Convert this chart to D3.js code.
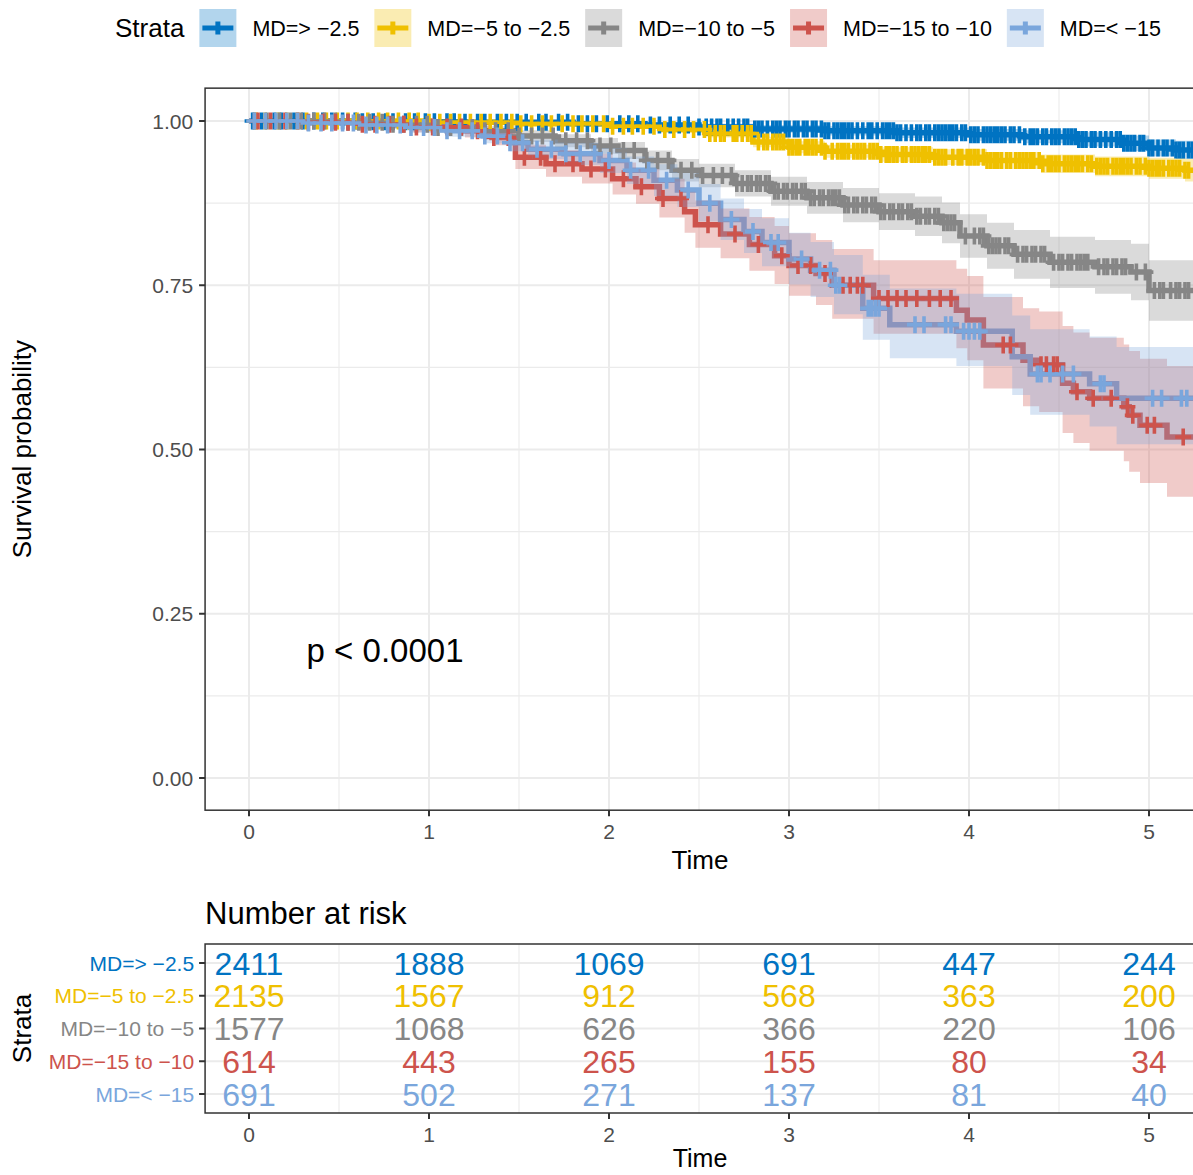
<!DOCTYPE html>
<html>
<head>
<meta charset="utf-8">
<script src="https://cdn.jsdelivr.net/npm/d3@7"></script>
<style>
  body { margin: 0; background: #fff; }
  text { font-family: "Liberation Sans", Arial, sans-serif; }
</style>
</head>
<body>
<script>
// strata + colours (jco palette)
var strata = ["MD=> \u22122.5", "MD=\u22125 to \u22122.5", "MD=\u221210 to \u22125", "MD=\u221215 to \u221210", "MD=< \u221215"];
var colors = ["#0073C2", "#EFC000", "#868686", "#CD534C", "#7AA6DC"];

var xTicks = [0, 1, 2, 3, 4, 5];
var yTicks = [0, 0.25, 0.5, 0.75, 1];
var maxTime = 5.3;

// MD=> -2.5
var time1  = [0, 0.6, 1.2, 1.8, 2.2, 2.5, 2.8, 3.2, 3.6, 4.0, 4.3, 4.6, 4.85, 5.0, 5.15];
var surv1  = [1, 0.999, 0.998, 0.996, 0.994, 0.991, 0.988, 0.985, 0.982, 0.979, 0.976, 0.972, 0.966, 0.959, 0.956];
var lower1 = [1, 0.998, 0.996, 0.993, 0.990, 0.986, 0.982, 0.978, 0.974, 0.970, 0.966, 0.961, 0.954, 0.946, 0.942];
var upper1 = [1, 1, 1, 0.999, 0.998, 0.996, 0.994, 0.992, 0.990, 0.988, 0.986, 0.983, 0.978, 0.972, 0.970];
var cens1  = [0.02,0.07,0.14,0.18,0.25,0.3,0.36,0.41,0.46,0.52,0.59,0.63,0.69,0.76,0.8,0.87,0.92,0.98,1.03,1.1,1.14,1.2,1.27,1.31,1.38,1.43,1.49,1.54,1.61,1.65,1.72,1.77,1.83,1.88,1.93,1.99,2.06,2.11,2.16,2.23,2.28,2.34,2.39,2.44,2.5,2.57,2.62,2.66,2.72,2.77,2.81,2.85,2.91,2.95,3.0,3.05,3.08,3.13,3.18,3.22,3.27,3.31,3.35,3.41,3.44,3.49,3.54,3.58,3.62,3.68,3.71,3.76,3.81,3.85,3.89,3.93,3.98,4.03,4.08,4.12,4.16,4.2,4.25,4.31,4.34,4.38,4.43,4.48,4.53,4.57,4.61,4.65,4.7,4.76,4.79,4.84,4.88,4.92,4.97,5.02,5.05,5.1,5.15,5.19,5.24,
              2.54,2.6,2.69,2.75,2.83,2.88,2.93,2.98,3.03,3.1,3.15,3.2,3.25,3.29,3.33,3.38,3.46,3.52,3.56,3.6,3.65,3.73,3.78,3.83,3.87,3.91,3.96,4.01,4.05,4.1,4.14,4.18,4.23,4.28,4.36,4.41,4.46,4.5,4.55,4.59,4.63,4.68,4.73,4.82,4.86,4.9,4.95,5.0,5.08,5.13,5.17,5.22];

// MD=-5 to -2.5
var time2  = [0, 1.0, 1.5, 2.0, 2.3, 2.55, 2.8, 3.0, 3.2, 3.5, 3.8, 4.1, 4.4, 4.7, 5.0, 5.2];
var surv2  = [1, 0.998, 0.996, 0.992, 0.987, 0.981, 0.968, 0.960, 0.954, 0.949, 0.945, 0.940, 0.935, 0.931, 0.928, 0.925];
var lower2 = [1, 0.996, 0.993, 0.988, 0.982, 0.975, 0.960, 0.951, 0.944, 0.938, 0.933, 0.927, 0.921, 0.916, 0.912, 0.908];
var upper2 = [1, 1, 0.999, 0.996, 0.992, 0.987, 0.976, 0.969, 0.964, 0.960, 0.957, 0.953, 0.949, 0.946, 0.944, 0.942];
var cens2  = [0.04,0.09,0.16,0.21,0.27,0.32,0.38,0.43,0.49,0.55,0.6,0.66,0.72,0.77,0.83,0.89,0.94,1.0,1.06,1.12,1.17,1.23,1.29,1.34,1.4,1.46,1.51,1.57,1.63,1.68,1.74,1.8,1.85,1.91,1.97,2.02,2.08,2.13,2.19,2.25,2.31,2.36,2.42,2.47,2.53,2.59,2.64,2.69,2.74,2.79,2.83,2.88,2.93,2.97,3.02,3.06,3.11,3.15,3.2,3.24,3.29,3.33,3.38,3.42,3.47,3.51,3.56,3.6,3.65,3.7,3.74,3.78,3.83,3.87,3.91,3.96,4.01,4.05,4.1,4.14,4.18,4.23,4.28,4.32,4.36,4.41,4.46,4.5,4.55,4.59,4.63,4.68,4.73,4.77,4.82,4.86,4.9,4.95,5.0,5.04,5.08,5.13,5.17,5.22,
              2.56,2.62,2.71,2.77,2.86,2.91,2.95,3.0,3.04,3.09,3.13,3.18,3.27,3.31,3.36,3.4,3.45,3.49,3.54,3.58,3.63,3.68,3.72,3.76,3.81,3.85,3.94,3.99,4.03,4.08,4.12,4.16,4.21,4.26,4.3,4.34,4.39,4.44,4.48,4.53,4.57,4.61,4.66,4.71,4.75,4.8,4.84,4.88,4.93,4.98,5.02,5.06,5.11,5.15,5.2];

// MD=-10 to -5
var time3  = [0, 0.5, 0.8, 1.0, 1.3, 1.5, 1.7, 1.9, 2.05, 2.2, 2.35, 2.5, 2.7, 2.9, 3.1, 3.3, 3.5, 3.7, 3.85, 3.95, 4.1, 4.25, 4.45, 4.7, 4.9, 5.0];
var surv3  = [1, 0.998, 0.995, 0.99, 0.985, 0.977, 0.97, 0.962, 0.955, 0.94, 0.925, 0.917, 0.905, 0.893, 0.883, 0.872, 0.862, 0.855, 0.845, 0.825, 0.81, 0.797, 0.785, 0.778, 0.77, 0.742];
var lower3 = [1, 0.996, 0.991, 0.985, 0.978, 0.968, 0.96, 0.95, 0.942, 0.925, 0.908, 0.899, 0.885, 0.871, 0.859, 0.846, 0.834, 0.825, 0.814, 0.792, 0.775, 0.76, 0.746, 0.737, 0.727, 0.696];
var upper3 = [1, 1, 0.999, 0.995, 0.992, 0.986, 0.98, 0.974, 0.968, 0.955, 0.942, 0.935, 0.925, 0.915, 0.907, 0.898, 0.89, 0.885, 0.876, 0.858, 0.845, 0.834, 0.824, 0.819, 0.813, 0.788];
var cens3  = [0.03,0.1,0.17,0.23,0.29,0.36,0.42,0.48,0.55,0.61,0.67,0.74,0.8,0.86,0.93,0.99,1.05,1.12,1.18,1.24,1.31,1.37,1.44,1.5,1.57,1.63,1.69,1.76,1.82,1.88,1.95,2.01,2.08,2.14,2.21,2.27,2.33,2.4,2.46,2.52,2.58,2.63,2.68,2.74,2.79,2.84,2.89,2.94,2.99,3.04,3.09,3.14,3.19,3.24,3.28,3.33,3.38,3.43,3.48,3.53,3.58,3.63,3.68,3.73,3.78,3.83,3.88,3.92,3.98,4.03,4.08,4.13,4.17,4.22,4.27,4.32,4.37,4.42,4.47,4.52,4.57,4.62,4.66,4.72,4.77,4.82,4.87,4.93,4.98,5.03,5.08,5.12,5.17,5.22,
              2.71,2.77,2.82,2.87,2.92,2.97,3.02,3.07,3.12,3.17,3.22,3.26,3.31,3.36,3.41,3.46,3.51,3.56,3.61,3.66,3.71,3.76,3.81,3.86,3.9,4.06,4.11,4.15,4.2,4.3,4.35,4.4,4.5,4.55,4.6,4.64,4.75,4.8,4.85,5.06,5.15,5.2];

// MD=-15 to -10
var time4  = [0,0.3,0.6,0.9,1.2,1.35,1.48,1.65,1.85,2.02,2.15,2.28,2.42,2.48,2.62,2.78,2.92,3.0,3.15,3.24,3.47,3.93,3.99,4.08,4.3,4.39,4.52,4.58,4.67,4.86,4.89,4.95,5.1];
var surv4  = [1,0.998,0.995,0.991,0.985,0.975,0.945,0.935,0.927,0.912,0.9,0.882,0.862,0.842,0.828,0.812,0.795,0.78,0.768,0.75,0.73,0.712,0.697,0.659,0.636,0.629,0.601,0.588,0.578,0.565,0.552,0.537,0.519];
var lower4 = [1,0.994,0.989,0.983,0.975,0.963,0.927,0.915,0.905,0.888,0.874,0.853,0.83,0.807,0.791,0.772,0.752,0.734,0.72,0.699,0.676,0.654,0.636,0.593,0.566,0.557,0.525,0.51,0.498,0.482,0.466,0.449,0.428];
var upper4 = [1,1,1,0.999,0.995,0.987,0.964,0.956,0.95,0.937,0.927,0.912,0.895,0.879,0.867,0.854,0.84,0.829,0.819,0.805,0.788,0.775,0.764,0.732,0.715,0.71,0.688,0.678,0.67,0.66,0.65,0.638,0.627];
var cens4  = [0.05,0.12,0.2,0.27,0.33,0.41,0.48,0.55,0.63,0.7,0.78,0.86,0.93,1.02,1.1,1.18,1.27,1.36,1.44,1.53,1.62,1.7,1.8,1.9,1.98,2.08,2.18,2.3,2.4,2.55,2.7,2.83,2.96,3.05,3.12,3.2,3.3,3.34,3.38,3.41,3.5,3.55,3.6,3.65,3.71,3.78,3.84,3.9,4.19,4.23,4.4,4.43,4.47,4.49,4.6,4.69,4.79,4.88,4.91,4.99,5.03,5.19];

// MD=< -15
var time5  = [0,0.3,0.6,0.9,1.1,1.3,1.45,1.55,1.75,1.95,2.1,2.25,2.38,2.5,2.62,2.75,2.85,3.0,3.12,3.25,3.41,3.56,3.93,4.24,4.34,4.67,4.82];
var surv5  = [1,0.997,0.994,0.99,0.985,0.977,0.967,0.957,0.95,0.94,0.925,0.91,0.895,0.875,0.85,0.832,0.815,0.79,0.773,0.75,0.715,0.69,0.68,0.641,0.615,0.6,0.578];
var lower5 = [1,0.993,0.988,0.982,0.976,0.966,0.954,0.942,0.933,0.921,0.904,0.886,0.869,0.847,0.819,0.799,0.779,0.751,0.732,0.706,0.667,0.639,0.627,0.583,0.553,0.535,0.508];
var upper5 = [1,1,1,0.997,0.994,0.988,0.98,0.972,0.967,0.959,0.946,0.934,0.921,0.904,0.882,0.866,0.852,0.83,0.816,0.796,0.766,0.745,0.737,0.704,0.683,0.672,0.656];
var cens5  = [0.03,0.09,0.15,0.21,0.27,0.33,0.4,0.46,0.52,0.58,0.65,0.71,0.77,0.84,0.9,0.97,1.03,1.1,1.17,1.24,1.31,1.38,1.45,1.52,1.6,1.68,1.76,1.84,1.92,2.0,2.12,2.22,2.32,2.44,2.56,2.68,2.8,2.9,2.94,3.07,3.17,3.23,3.26,3.28,3.44,3.46,3.48,3.5,3.7,3.75,3.87,3.9,3.97,4.0,4.03,4.06,4.38,4.4,4.45,4.52,4.58,4.73,4.75,5.02,5.07,5.18,5.21];

// number at risk at t = 0..5
var risk1 = [2411, 1888, 1069, 691, 447, 244];
var risk2 = [2135, 1567, 912, 568, 363, 200];
var risk3 = [1577, 1068, 626, 366, 220, 106];
var risk4 = [614, 443, 265, 155, 80, 34];
var risk5 = [691, 502, 271, 137, 81, 40];

var curves = [
  {t: time1, s: surv1, lo: lower1, hi: upper1, c: cens1},
  {t: time2, s: surv2, lo: lower2, hi: upper2, c: cens2},
  {t: time3, s: surv3, lo: lower3, hi: upper3, c: cens3},
  {t: time4, s: surv4, lo: lower4, hi: upper4, c: cens4},
  {t: time5, s: surv5, lo: lower5, hi: upper5, c: cens5}
];
var risks = [risk1, risk2, risk3, risk4, risk5];

var W = 1193, H = 1175;
var svg = d3.select('body').append('svg')
            .attr('width', W)
            .attr('height', H);

var x = d3.scaleLinear().domain([0, 5]).range([249, 1149]);
var y = d3.scaleLinear().domain([0, 1]).range([778, 121]);
var panel = {left: x(-0.244), right: x(5.3), top: y(1.05), bottom: y(-0.049)};

var gridMajor = '#EBEBEB', txtGrey = '#4D4D4D';

// ---- legend ----
var leg = svg.append('g');
var lx = 115;
var lt = leg.append('text').attr('x', lx).attr('y', 37).attr('font-size', 26).text('Strata');
lx += lt.node().getComputedTextLength() + 15;
strata.forEach(function (name, i) {
  var g = leg.append('g').attr('transform', 'translate(' + lx + ',9)');
  g.append('rect').attr('width', 37).attr('height', 38)
    .attr('fill', colors[i]).attr('fill-opacity', 0.3);
  g.append('path').attr('d', 'M3,19H34M18.5,12.5V25.5')
    .attr('stroke', colors[i]).attr('stroke-width', 5).attr('fill', 'none');
  var t = leg.append('text').attr('x', lx + 53).attr('y', 36).attr('font-size', 21.5).text(name);
  lx += 53 + t.node().getComputedTextLength() + 15;
});

// ---- survival panel ----
svg.append('clipPath').attr('id', 'clip').append('rect')
  .attr('x', panel.left).attr('y', panel.top)
  .attr('width', panel.right - panel.left).attr('height', panel.bottom - panel.top);

var grid = svg.append('g');
d3.range(0.5, 5.3, 1).forEach(function (v) {
  grid.append('line').attr('x1', x(v)).attr('x2', x(v)).attr('y1', panel.top).attr('y2', panel.bottom)
    .attr('stroke', gridMajor).attr('stroke-width', 1.1);
});
[0.125, 0.375, 0.625, 0.875].forEach(function (v) {
  grid.append('line').attr('x1', panel.left).attr('x2', panel.right).attr('y1', y(v)).attr('y2', y(v))
    .attr('stroke', gridMajor).attr('stroke-width', 1.1);
});
xTicks.forEach(function (v) {
  grid.append('line').attr('x1', x(v)).attr('x2', x(v)).attr('y1', panel.top).attr('y2', panel.bottom)
    .attr('stroke', gridMajor).attr('stroke-width', 2);
});
yTicks.forEach(function (v) {
  grid.append('line').attr('x1', panel.left).attr('x2', panel.right).attr('y1', y(v)).attr('y2', y(v))
    .attr('stroke', gridMajor).attr('stroke-width', 2);
});

var plot = svg.append('g').attr('clip-path', 'url(#clip)');

function pts(d, key) {
  var arr = d.t.map(function (tt, i) { return {t: tt, v: d[key][i], lo: d.lo[i], hi: d.hi[i]}; });
  var last = arr[arr.length - 1];
  arr.push({t: maxTime, v: last.v, lo: last.lo, hi: last.hi});
  return arr;
}

var line = d3.line().curve(d3.curveStepAfter)
  .x(function (p) { return x(p.t); }).y(function (p) { return y(p.v); });
var area = d3.area().curve(d3.curveStepAfter)
  .x(function (p) { return x(p.t); })
  .y0(function (p) { return y(p.lo); }).y1(function (p) { return y(p.hi); });

// lines first, then ribbons on top (as survminer does), then censor marks
curves.forEach(function (d, i) {
  plot.append('path').attr('d', line(pts(d, 's')))
    .attr('fill', 'none').attr('stroke', colors[i]).attr('stroke-width', 5.5);
});
curves.forEach(function (d, i) {
  plot.append('path').attr('d', area(pts(d, 's')))
    .attr('fill', colors[i]).attr('fill-opacity', 0.3);
});
curves.forEach(function (d, i) {
  plot.selectAll(null).data(d.c).enter().append('path')
    .attr('d', function (tc) {
      var k = d3.bisectRight(d.t, tc) - 1;
      var px = x(tc), py = y(d.s[k]);
      return 'M' + (px - 8) + ',' + py + 'h16M' + px + ',' + (py - 8.5) + 'v17';
    })
    .attr('stroke', colors[i]).attr('stroke-width', 3.6).attr('fill', 'none');
});

svg.append('rect').attr('x', panel.left).attr('y', panel.top)
  .attr('width', panel.right - panel.left).attr('height', panel.bottom - panel.top)
  .attr('fill', 'none').attr('stroke', '#333').attr('stroke-width', 1.5);

// axes
var yAx = svg.append('g');
yTicks.forEach(function (v) {
  yAx.append('line').attr('x1', panel.left - 6).attr('x2', panel.left).attr('y1', y(v)).attr('y2', y(v))
    .attr('stroke', '#333').attr('stroke-width', 2);
  yAx.append('text').attr('x', panel.left - 12).attr('y', y(v)).attr('dy', '0.36em')
    .attr('text-anchor', 'end').attr('font-size', 21).attr('fill', txtGrey).text(v.toFixed(2));
});
var xAx = svg.append('g');
xTicks.forEach(function (v) {
  xAx.append('line').attr('x1', x(v)).attr('x2', x(v)).attr('y1', panel.bottom).attr('y2', panel.bottom + 6)
    .attr('stroke', '#333').attr('stroke-width', 2);
  xAx.append('text').attr('x', x(v)).attr('y', panel.bottom + 29)
    .attr('text-anchor', 'middle').attr('font-size', 21).attr('fill', txtGrey).text(v);
});
svg.append('text').attr('x', 700).attr('y', 869).attr('text-anchor', 'middle').attr('font-size', 26).text('Time');
svg.append('text').attr('transform', 'translate(31,' + ((panel.top + panel.bottom) / 2) + ') rotate(-90)')
  .attr('text-anchor', 'middle').attr('font-size', 26).text('Survival probability');
svg.append('text').attr('x', x(0.32)).attr('y', y(0.195)).attr('dy', '0.36em').attr('font-size', 33).text('p < 0.0001');

// ---- risk table ----
var tTop = 944, tBottom = 1113;
var ry = d3.scalePoint().domain(strata).range([963, 1094]);

svg.append('text').attr('x', panel.left).attr('y', 924).attr('font-size', 31).text('Number at risk');

var tg = svg.append('g');
d3.range(0.5, 5.3, 1).forEach(function (v) {
  tg.append('line').attr('x1', x(v)).attr('x2', x(v)).attr('y1', tTop).attr('y2', tBottom)
    .attr('stroke', gridMajor).attr('stroke-width', 1.1);
});
strata.forEach(function (s) {
  tg.append('line').attr('x1', panel.left).attr('x2', panel.right).attr('y1', ry(s)).attr('y2', ry(s))
    .attr('stroke', gridMajor).attr('stroke-width', 2);
});
risks.forEach(function (r, i) {
  tg.selectAll(null).data(r).enter().append('text')
    .attr('x', function (v, j) { return x(xTicks[j]); })
    .attr('y', ry(strata[i])).attr('dy', '0.36em')
    .attr('text-anchor', 'middle').attr('font-size', 32).attr('fill', colors[i])
    .text(function (v) { return v; });
});
svg.append('rect').attr('x', panel.left).attr('y', tTop)
  .attr('width', panel.right - panel.left).attr('height', tBottom - tTop)
  .attr('fill', 'none').attr('stroke', '#333').attr('stroke-width', 1.5);

strata.forEach(function (s, i) {
  svg.append('line').attr('x1', panel.left - 6).attr('x2', panel.left).attr('y1', ry(s)).attr('y2', ry(s))
    .attr('stroke', '#333').attr('stroke-width', 2);
  svg.append('text').attr('x', panel.left - 11).attr('y', ry(s)).attr('dy', '0.36em')
    .attr('text-anchor', 'end').attr('font-size', 21).attr('fill', colors[i]).text(s);
});
xTicks.forEach(function (v) {
  svg.append('line').attr('x1', x(v)).attr('x2', x(v)).attr('y1', tBottom).attr('y2', tBottom + 6)
    .attr('stroke', '#333').attr('stroke-width', 2);
  svg.append('text').attr('x', x(v)).attr('y', tBottom + 29)
    .attr('text-anchor', 'middle').attr('font-size', 21).attr('fill', txtGrey).text(v);
});
svg.append('text').attr('x', 700).attr('y', 1167).attr('text-anchor', 'middle').attr('font-size', 25).text('Time');
svg.append('text').attr('transform', 'translate(31,' + ((tTop + tBottom) / 2) + ') rotate(-90)')
  .attr('text-anchor', 'middle').attr('font-size', 26).text('Strata');
</script>
</body>
</html>
